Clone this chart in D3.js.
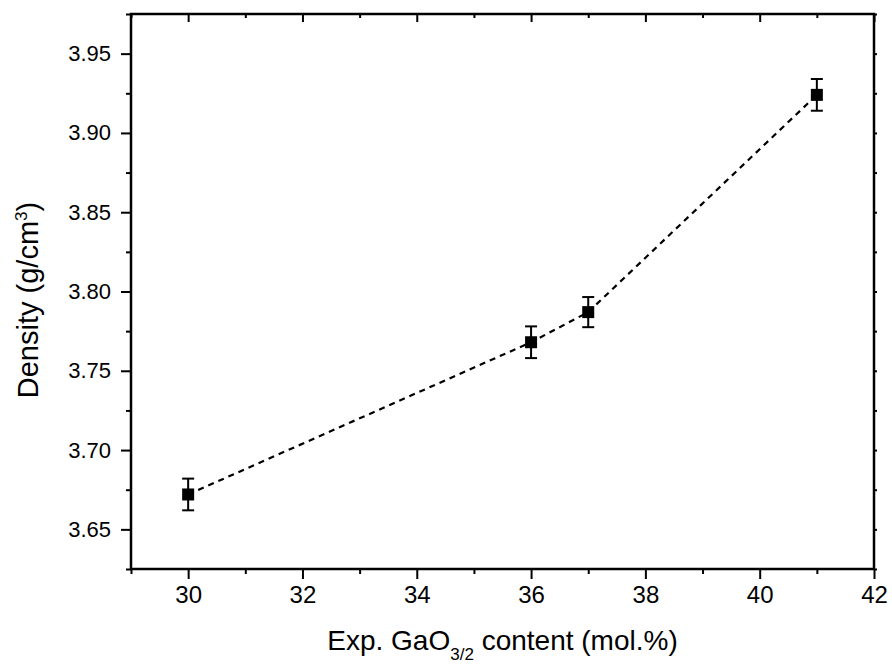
<!DOCTYPE html>
<html>
<head>
<meta charset="utf-8">
<script src="https://cdn.jsdelivr.net/npm/d3@7"></script>
<style>
  body { margin: 0; background: #fff; }
  text { font-family: Arial, "Liberation Sans", sans-serif; fill: #000; }
</style>
</head>
<body>
<svg></svg>
<script>
// data
var gaContent = [30, 36, 37, 41];
var density = [3.672, 3.768, 3.787, 3.924];
var densityErr = [0.01, 0.01, 0.0095, 0.01];
var xTicks = [30, 32, 34, 36, 38, 40, 42];
var yTicks = [3.65, 3.70, 3.75, 3.80, 3.85, 3.90, 3.95];

var svgW = 892;
var svgH = 665;
var svg = d3.select("svg")
  .attr("width", svgW)
  .attr("height", svgH);

// plot box (don't call it "top", that's window.top)
var padL = 131, padR = 874, padT = 14, padB = 569;

var xScale = d3.scaleLinear().domain([29, 42]).range([padL, padR]);
var yScale = d3.scaleLinear().domain([3.625, 3.975]).range([padB, padT]);

var points = gaContent.map(function(d, i) {
  return { x: d, y: density[i], e: densityErr[i] };
});

// minor ticks sit halfway between the majors
var xMinor = [29, 31, 33, 35, 37, 39, 41];
var yMinor = [3.625, 3.675, 3.725, 3.775, 3.825, 3.875, 3.925, 3.975];

// Bottom axis
var xAxis = svg.append("g")
  .attr("transform", "translate(0," + padB + ")")
  .call(d3.axisBottom(xScale).tickValues(xTicks).tickSize(10).tickPadding(7)
        .tickFormat(d3.format("d")));
xAxis.selectAll(".tick text").style("font-size", "24px");
svg.append("g")
  .attr("transform", "translate(0," + padB + ")")
  .call(d3.axisBottom(xScale).tickValues(xMinor).tickSize(5).tickFormat(""));

// Left axis
var yAxis = svg.append("g")
  .attr("transform", "translate(" + padL + ",0)")
  .call(d3.axisLeft(yScale).tickValues(yTicks).tickSize(10).tickPadding(10)
        .tickFormat(d3.format(".2f")));
yAxis.selectAll(".tick text").style("font-size", "22px");
svg.append("g")
  .attr("transform", "translate(" + padL + ",0)")
  .call(d3.axisLeft(yScale).tickValues(yMinor).tickSize(5).tickFormat(""));

// Top axis, ticks pointing in
svg.append("g")
  .attr("transform", "translate(0," + padT + ")")
  .call(d3.axisBottom(xScale).tickValues(xTicks).tickSize(8).tickFormat(""));
svg.append("g")
  .attr("transform", "translate(0," + padT + ")")
  .call(d3.axisBottom(xScale).tickValues(xMinor).tickSize(4).tickFormat(""));

// Right axis, tiny ticks
svg.append("g")
  .attr("transform", "translate(" + padR + ",0)")
  .call(d3.axisRight(yScale).tickValues(yTicks.concat(yMinor)).tickSize(3).tickFormat(""));

svg.selectAll(".domain").remove();
svg.selectAll(".tick line").attr("stroke", "#000").attr("stroke-width", 2);

// frame
svg.append("rect")
  .attr("x", padL)
  .attr("y", padT)
  .attr("width", padR - padL)
  .attr("height", padB - padT)
  .attr("fill", "none")
  .attr("stroke", "#000")
  .attr("stroke-width", 2.5);

// dashed connecting line
var line = d3.line()
  .x(function(d) { return xScale(d.x); })
  .y(function(d) { return yScale(d.y); });

svg.append("path")
  .datum(points)
  .attr("d", line)
  .attr("fill", "none")
  .attr("stroke", "#000")
  .attr("stroke-width", 2.2)
  .attr("stroke-dasharray", "6,5");

// error bars
var bars = svg.selectAll(".err")
  .data(points)
  .enter().append("g")
  .attr("class", "err")
  .attr("stroke", "#000")
  .attr("stroke-width", 2);
bars.append("line")
  .attr("x1", function(d) { return xScale(d.x); })
  .attr("x2", function(d) { return xScale(d.x); })
  .attr("y1", function(d) { return yScale(d.y - d.e); })
  .attr("y2", function(d) { return yScale(d.y + d.e); });
bars.append("line")
  .attr("x1", function(d) { return xScale(d.x) - 6; })
  .attr("x2", function(d) { return xScale(d.x) + 6; })
  .attr("y1", function(d) { return yScale(d.y + d.e); })
  .attr("y2", function(d) { return yScale(d.y + d.e); });
bars.append("line")
  .attr("x1", function(d) { return xScale(d.x) - 6; })
  .attr("x2", function(d) { return xScale(d.x) + 6; })
  .attr("y1", function(d) { return yScale(d.y - d.e); })
  .attr("y2", function(d) { return yScale(d.y - d.e); });

// square markers
svg.selectAll(".pt")
  .data(points)
  .enter().append("rect")
  .attr("class", "pt")
  .attr("x", function(d) { return xScale(d.x) - 6; })
  .attr("y", function(d) { return yScale(d.y) - 6; })
  .attr("width", 12)
  .attr("height", 12)
  .attr("fill", "#000");

// X title with subscript
var xTitle = svg.append("text")
  .attr("x", (padL + padR) / 2)
  .attr("y", 650)
  .style("text-anchor", "middle")
  .style("font-size", "28px");
xTitle.append("tspan").text("Exp. GaO");
xTitle.append("tspan").text("3/2").attr("dy", 10).style("font-size", "17px");
xTitle.append("tspan").text(" content (mol.%)").attr("dy", -10);

// Y title with superscript
var yTitle = svg.append("text")
  .attr("transform", "translate(38,300) rotate(-90)")
  .style("text-anchor", "middle")
  .style("font-size", "29px");
yTitle.append("tspan").text("Density (g/cm");
yTitle.append("tspan").text("3").attr("dy", -11).style("font-size", "17px");
yTitle.append("tspan").text(")").attr("dy", 11);
</script>
</body>
</html>
